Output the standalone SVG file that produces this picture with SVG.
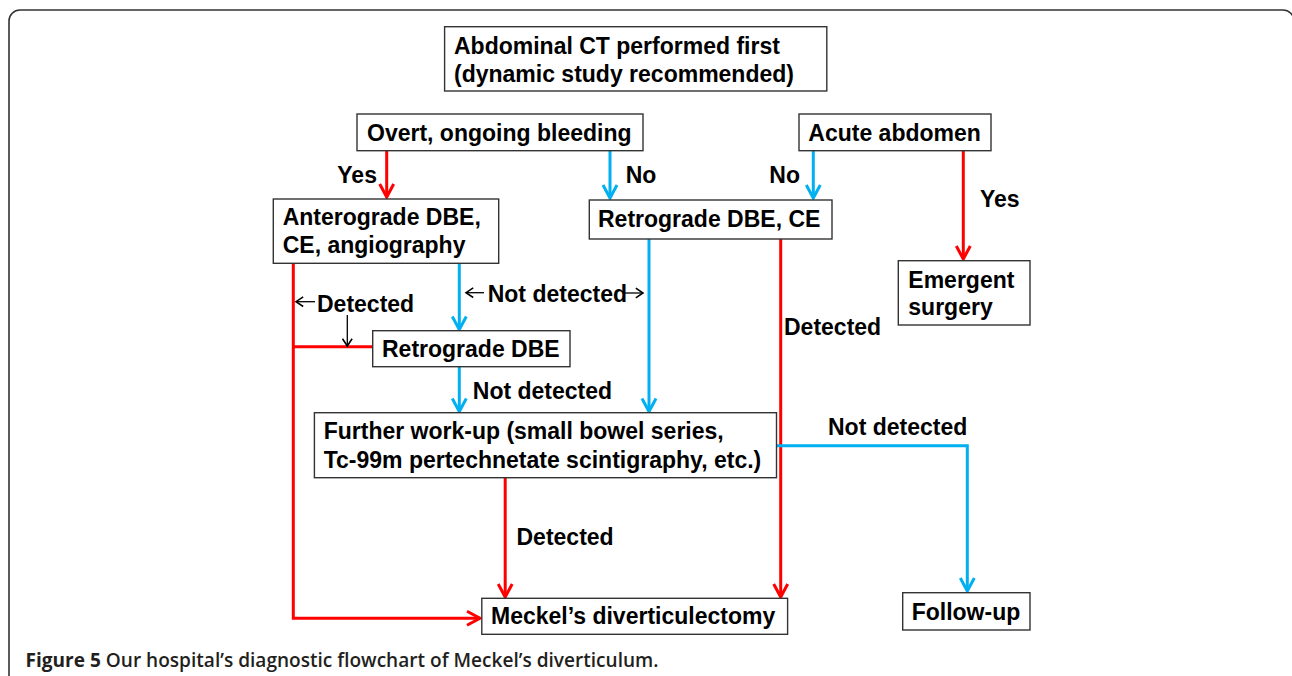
<svg xmlns="http://www.w3.org/2000/svg" width="1292" height="676" viewBox="0 0 1292 676">
<style>
.box{fill:#fff;stroke:#333;stroke-width:1.4}
.t{font-family:"Liberation Sans",Arial,sans-serif;font-weight:bold;font-size:23px;fill:#000}
.red{stroke:#ff0000;stroke-width:3;fill:none}
.blue{stroke:#00b0f0;stroke-width:3;fill:none}
.blk{stroke:#000;stroke-width:1.3;fill:none}
.cap{font-family:"Open Sans","Liberation Sans",sans-serif;font-size:19.5px;fill:#231f20}
</style>
<defs>
<marker id="ar" markerUnits="userSpaceOnUse" markerWidth="20" markerHeight="20" viewBox="-16 -10 20 20" refX="0" refY="0" orient="auto"><path d="M-13,-7 L0,0 L-13,7" fill="none" stroke="#ff0000" stroke-width="3"/></marker>
<marker id="ab" markerUnits="userSpaceOnUse" markerWidth="20" markerHeight="20" viewBox="-16 -10 20 20" refX="0" refY="0" orient="auto"><path d="M-13,-7 L0,0 L-13,7" fill="none" stroke="#00b0f0" stroke-width="3"/></marker>
<marker id="ak" markerUnits="userSpaceOnUse" markerWidth="12" markerHeight="12" viewBox="-8 -5 10 10" refX="0" refY="0" orient="auto"><path d="M-6,-4 L0,0 L-6,4" fill="none" stroke="#000" stroke-width="1.3"/></marker>
</defs>
<rect x="0" y="0" width="1292" height="676" fill="#fff"/>
<rect x="9" y="10" width="1285" height="720" rx="11" fill="none" stroke="#333" stroke-width="1.6"/>

<g id="connectors">
<path class="red" d="M386.7,151 V197" marker-end="url(#ar)"/>
<path class="blue" d="M610,151 V198" marker-end="url(#ab)"/>
<path class="blue" d="M813.3,151 V198" marker-end="url(#ab)"/>
<path class="red" d="M963.3,151 V259" marker-end="url(#ar)"/>
<path class="red" d="M293.3,263.5 V618.3 H480" marker-end="url(#ar)"/>
<path class="red" d="M293.3,346.7 H372.7"/>
<path class="blue" d="M459.3,263.5 V329.5" marker-end="url(#ab)"/>
<path class="blue" d="M649,239 V411.5" marker-end="url(#ab)"/>
<path class="blue" d="M459.3,367 V411.5" marker-end="url(#ab)"/>
<path class="red" d="M780.7,239 V597" marker-end="url(#ar)"/>
<path class="red" d="M505.2,478 V597" marker-end="url(#ar)"/>
<path class="blue" d="M776.5,445.7 H967.3 V591" marker-end="url(#ab)"/>
<path class="blk" d="M315,301.7 H296" marker-end="url(#ak)"/>
<path class="blk" d="M347.3,315 V346" marker-end="url(#ak)"/>
<path class="blk" d="M484,292.7 H466" marker-end="url(#ak)"/>
<path class="blk" d="M623,293 H643" marker-end="url(#ak)"/>
</g>

<g id="node-ct"><rect class="box" x="444.6" y="26.7" width="382.2" height="64.3"/><text class="t" x="454" y="54.3">Abdominal CT performed first</text><text class="t" x="454" y="81.7">(dynamic study recommended)</text></g>
<g id="node-overt"><rect class="box" x="357" y="114" width="286" height="36.7"/><text class="t" x="367" y="140.7">Overt, ongoing bleeding</text></g>
<g id="node-acute"><rect class="box" x="799" y="114" width="192" height="36.7"/><text class="t" x="808.3" y="140.7">Acute abdomen</text></g>
<g id="node-antero"><rect class="box" x="273.3" y="199" width="225.4" height="64.3"/><text class="t" x="282.7" y="225">Anterograde DBE,</text><text class="t" x="282.7" y="252.7">CE, angiography</text></g>
<g id="node-retro-ce"><rect class="box" x="589.3" y="200" width="242.7" height="39"/><text class="t" x="598" y="227.3">Retrograde DBE, CE</text></g>
<g id="node-emergent"><rect class="box" x="898.3" y="260.7" width="131.7" height="64.3"/><text class="t" x="908.3" y="287.7">Emergent</text><text class="t" x="908.3" y="315">surgery</text></g>
<g id="node-retro"><rect class="box" x="372.7" y="330.7" width="197.3" height="36"/><text class="t" x="382" y="356.7">Retrograde DBE</text></g>
<g id="node-further"><rect class="box" x="314.4" y="412.7" width="462.1" height="65"/><text class="t" x="323.7" y="439.3">Further work-up (small bowel series,</text><text class="t" x="323.7" y="467.7">Tc-99m pertechnetate scintigraphy, etc.)</text></g>
<g id="node-meckel"><rect class="box" x="481.8" y="598.3" width="305.8" height="36"/><text class="t" x="491" y="624">Meckel’s diverticulectomy</text></g>
<g id="node-follow"><rect class="box" x="902.7" y="592.7" width="127.3" height="37.3"/><text class="t" x="911.7" y="620">Follow-up</text></g>

<g id="labels">
<text class="t" x="337.3" y="183.3">Yes</text>
<text class="t" x="625.7" y="183.3">No</text>
<text class="t" x="769.3" y="183.3">No</text>
<text class="t" x="980" y="206.7">Yes</text>
<text class="t" x="317" y="311.7">Detected</text>
<text class="t" x="487.7" y="301.7">Not detected</text>
<text class="t" x="784" y="335">Detected</text>
<text class="t" x="472.8" y="399">Not detected</text>
<text class="t" x="828" y="435">Not detected</text>
<text class="t" x="516.5" y="545">Detected</text>
</g>

<text class="cap" x="25.5" y="667" textLength="633" lengthAdjust="spacingAndGlyphs"><tspan font-weight="bold">Figure 5</tspan><tspan font-weight="600"> Our hospital’s diagnostic flowchart of Meckel’s diverticulum.</tspan></text>
</svg>
